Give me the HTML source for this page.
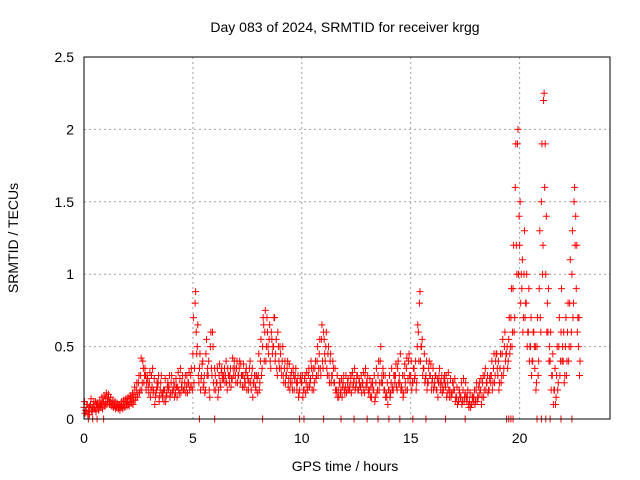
<!DOCTYPE html>
<html><head><meta charset="utf-8"><style>
body{margin:0;background:#fff}
svg{display:block;font-family:"Liberation Sans",sans-serif}
</style></head><body>
<svg id="chart" width="640" height="480" viewBox="0 0 640 480" xmlns="http://www.w3.org/2000/svg">
<rect width="640" height="480" fill="#fff"/>
<text x="345" y="32" font-size="14" text-anchor="middle">Day 083 of 2024, SRMTID for receiver krgg</text>
<text x="345" y="471" font-size="14" text-anchor="middle">GPS time / hours</text>
<text x="18" y="238" font-size="14" text-anchor="middle" transform="rotate(-90 18 238)">SRMTID / TECUs</text>
<g id="grid"></g>
<g id="ticks"></g>
<g id="marks"></g>
<rect x="84" y="57" width="526" height="362" fill="none" stroke="#000" stroke-width="1"/>
</svg>
<script>
const xTicks=[0,5,10,15,20];
const yTicks=[0,0.5,1,1.5,2,2.5];
const yTickLabels=["0","0.5","1","1.5","2","2.5"];
const seriesA=[0.08,0.06,0.05,0.1,0.08,0.07,0.1,0.09,0.1,0.12,
0.14,0.15,0.12,0.1,0.1,0.09,0.08,0.09,0.1,0.12,
0.12,0.14,0.15,0.17,0.2,0.25,0.3,0.4,0.35,0.3,
0.25,0.3,0.2,0.18,0.25,0.2,0.15,0.2,0.18,0.22,
0.25,0.2,0.18,0.22,0.28,0.25,0.2,0.22,0.25,0.3,
0.45,0.8,0.5,0.35,0.3,0.25,0.45,0.3,0.5,0.6,
0.35,0.25,0.3,0.32,0.28,0.3,0.35,0.3,0.28,0.4,
0.35,0.3,0.38,0.3,0.25,0.3,0.35,0.3,0.25,0.2,
0.3,0.4,0.5,0.6,0.7,0.55,0.6,0.5,0.45,0.6,
0.5,0.4,0.35,0.3,0.28,0.3,0.35,0.3,0.25,0.2,
0.25,0.2,0.25,0.3,0.28,0.3,0.35,0.4,0.45,0.55,
0.6,0.5,0.45,0.4,0.3,0.25,0.2,0.15,0.2,0.25,
0.22,0.25,0.2,0.3,0.28,0.25,0.2,0.22,0.25,0.3,
0.25,0.2,0.15,0.2,0.25,0.3,0.4,0.25,0.2,0.15,
0.2,0.25,0.2,0.3,0.35,0.25,0.2,0.3,0.35,0.4,
0.3,0.25,0.3,0.5,0.8,0.5,0.35,0.3,0.25,0.3,
0.28,0.25,0.2,0.3,0.25,0.2,0.22,0.25,0.2,0.18,
0.2,0.15,0.12,0.15,0.2,0.18,0.15,0.12,0.1,0.15,
0.2,0.15,0.2,0.25,0.3,0.25,0.2,0.3,0.35,0.4,
0.3,0.35,0.45,0.5,0.45,0.55,0.7,0.9,1.6,1.9,
1.2,0.9,1.0,0.8,0.6,0.5,0.4,0.35,0.5,0.9,
1.5,2.2,1.0,0.6,0.4,0.3,0.2,0.3,0.5,0.6,
0.4,0.5,0.6,0.8,1.0,1.5,0.9,0.5];
const seriesB=[0.04,0.1,0.03,0.06,0.12,0.05,0.08,0.1,0.07,0.09,
0.1,0.12,0.09,0.08,0.07,0.1,0.06,0.08,0.09,0.1,
0.1,0.12,0.1,0.13,0.15,0.18,0.2,0.25,0.2,0.22,
0.15,0.35,0.1,0.25,0.12,0.3,0.2,0.12,0.25,0.15,
0.18,0.15,0.22,0.2,0.18,0.2,0.3,0.18,0.2,0.22,
0.25,0.6,0.3,0.2,0.4,0.18,0.3,0.2,0.35,0.25,
0.2,0.15,0.25,0.28,0.35,0.25,0.3,0.22,0.35,0.3,
0.25,0.4,0.3,0.22,0.35,0.2,0.25,0.15,0.3,0.28,
0.2,0.3,0.65,0.4,0.5,0.4,0.45,0.7,0.35,0.4,
0.35,0.3,0.25,0.4,0.2,0.25,0.2,0.25,0.15,0.3,
0.15,0.3,0.2,0.22,0.35,0.2,0.28,0.3,0.35,0.4,
0.45,0.35,0.3,0.25,0.35,0.2,0.15,0.25,0.15,0.2,
0.18,0.2,0.25,0.22,0.2,0.3,0.25,0.18,0.2,0.22,
0.2,0.15,0.25,0.12,0.18,0.2,0.25,0.3,0.15,0.1,
0.15,0.2,0.3,0.22,0.25,0.2,0.15,0.25,0.2,0.3,
0.2,0.35,0.2,0.6,0.4,0.3,0.25,0.2,0.4,0.2,
0.2,0.3,0.15,0.25,0.18,0.3,0.15,0.2,0.15,0.25,
0.12,0.1,0.18,0.1,0.12,0.15,0.1,0.08,0.15,0.1,
0.12,0.25,0.1,0.15,0.2,0.18,0.3,0.2,0.25,0.45,
0.2,0.25,0.3,0.4,0.35,0.45,0.5,0.6,1.2,1.0,
0.8,0.6,0.7,0.5,0.4,0.3,0.6,0.2,0.3,0.7,
1.0,1.6,0.6,0.4,0.2,0.1,0.1,0.2,0.3,0.4,
0.25,0.3,0.4,0.5,0.7,1.2,0.6,0.3];
const seriesC=[0.12,0.1,0.08,0.14,0.1,0.12,0.11,0.13,0.15,0.16,
0.18,0.17,0.15,0.13,0.12,0.11,0.1,0.12,0.13,0.14,
0.15,0.16,0.18,0.22,0.25,0.3,0.42,0.35,0.3,0.28,
0.32,0.22,0.28,0.2,0.3,0.25,0.18,0.28,0.22,0.3,
0.3,0.25,0.28,0.32,0.35,0.3,0.25,0.3,0.32,0.35,
0.7,0.88,0.65,0.45,0.38,0.3,0.55,0.4,0.6,0.5,
0.3,0.35,0.38,0.35,0.3,0.4,0.3,0.35,0.42,0.35,
0.4,0.35,0.3,0.38,0.32,0.28,0.4,0.35,0.3,0.3,
0.45,0.55,0.7,0.75,0.6,0.65,0.55,0.7,0.55,0.5,
0.45,0.5,0.4,0.35,0.38,0.32,0.3,0.35,0.3,0.28,
0.3,0.28,0.32,0.35,0.4,0.35,0.4,0.5,0.55,0.65,
0.55,0.6,0.5,0.45,0.4,0.35,0.3,0.25,0.28,0.3,
0.3,0.28,0.3,0.32,0.35,0.3,0.28,0.3,0.32,0.35,
0.3,0.28,0.25,0.3,0.35,0.4,0.5,0.35,0.3,0.25,
0.3,0.35,0.3,0.38,0.4,0.45,0.3,0.38,0.42,0.45,
0.4,0.35,0.4,0.65,0.88,0.55,0.45,0.4,0.35,0.38,
0.35,0.3,0.28,0.35,0.3,0.28,0.3,0.32,0.28,0.25,
0.28,0.22,0.2,0.25,0.28,0.25,0.2,0.18,0.15,0.2,
0.25,0.22,0.28,0.3,0.35,0.3,0.28,0.4,0.45,0.45,
0.4,0.45,0.55,0.6,0.5,0.7,0.9,1.2,1.9,2.0,
1.5,1.1,1.3,1.0,0.9,0.7,0.6,0.5,0.7,1.3,
1.9,2.25,1.4,0.9,0.6,0.45,0.35,0.5,0.7,0.9,
0.6,0.7,0.8,1.1,1.3,1.6,1.2,0.7];
const seriesD=[0.06,0.03,0.09,0.05,0.07,0.1,0.06,0.08,0.11,0.1,
0.12,0.1,0.11,0.09,0.08,0.07,0.09,0.07,0.08,0.09,
0.09,0.11,0.13,0.15,0.18,0.2,0.25,0.3,0.25,0.18,
0.2,0.18,0.15,0.22,0.16,0.18,0.12,0.16,0.2,0.18,
0.2,0.22,0.15,0.18,0.22,0.2,0.18,0.25,0.22,0.2,
0.35,0.45,0.25,0.28,0.22,0.2,0.35,0.15,0.3,0.2,
0.25,0.2,0.22,0.3,0.25,0.2,0.25,0.28,0.3,0.25,
0.3,0.25,0.22,0.28,0.2,0.25,0.2,0.25,0.22,0.18,
0.25,0.35,0.4,0.5,0.45,0.35,0.5,0.4,0.3,0.35,
0.3,0.25,0.3,0.22,0.25,0.2,0.28,0.2,0.18,0.25,
0.2,0.18,0.22,0.25,0.2,0.25,0.3,0.35,0.3,0.35,
0.4,0.3,0.25,0.3,0.25,0.18,0.2,0.18,0.22,0.18,
0.2,0.22,0.18,0.25,0.22,0.2,0.22,0.25,0.18,0.25,
0.18,0.22,0.2,0.15,0.2,0.25,0.3,0.2,0.18,0.2,
0.18,0.22,0.25,0.2,0.3,0.22,0.18,0.2,0.28,0.25,
0.25,0.28,0.25,0.4,0.5,0.35,0.28,0.25,0.3,0.25,
0.22,0.2,0.25,0.2,0.22,0.25,0.18,0.15,0.18,0.2,
0.15,0.12,0.15,0.12,0.15,0.12,0.08,0.1,0.12,0.12,
0.15,0.18,0.15,0.2,0.25,0.2,0.25,0.25,0.3,0.35,
0.25,0.3,0.35,0.45,0.4,0.5,0.6,0.7,1.0,1.4,
1.0,0.7,0.8,0.6,0.5,0.4,0.5,0.25,0.4,0.6,
1.2,1.9,0.8,0.5,0.3,0.2,0.15,0.25,0.4,0.5,
0.3,0.4,0.5,0.6,0.8,1.4,0.7,0.4];
const zeroTimes=[0.2,0.4,0.6,0.9,5.3,6.0,8.2,9.9,10.1,11.0,11.8,12.4,13.0,13.5,14.0,14.5,15.1,15.7,16.6,17.5,19.4,19.5,19.6,19.7,20.8,21.0,21.2,21.4,21.9,22.4];
const STEP=0.1;
const NS="http://www.w3.org/2000/svg";
const X0=84,X1=610,Y0=419,Y1=57,XMAX=24.15,YMAX=2.5;
function xs(v){return X0+v/XMAX*(X1-X0);}
function ys(v){return Y0-v/YMAX*(Y0-Y1);}
function mk(tag,attrs,parent){const e=document.createElementNS(NS,tag);for(const k in attrs)e.setAttribute(k,attrs[k]);parent.appendChild(e);return e;}
const grid=document.getElementById('grid'),ticks=document.getElementById('ticks'),marks=document.getElementById('marks');
xTicks.forEach(t=>{const x=xs(t);
 if(t>0){const g=mk('line',{x1:x,x2:x,y1:Y1,y2:Y0,stroke:'#a0a0a0','stroke-dasharray':'2,3'},grid);
 
 }
 const l=mk('text',{x:x,y:Y0+24,'font-size':14,'text-anchor':'middle'},ticks);l.textContent=t;
 
 
});
yTicks.forEach((t,i)=>{const y=ys(t);
 if(t>0&&t<YMAX){const g=mk('line',{x1:X0,x2:X1,y1:y,y2:y,stroke:'#a0a0a0','stroke-dasharray':'2,3'},grid);
 
 }
 const l=mk('text',{x:X0-10,y:y+5,'font-size':14,'text-anchor':'end'},ticks);l.textContent=yTickLabels[i];
 
 
});
function plus(t,v){const x=xs(t),y=ys(v);
 const p=mk('path',{d:`M${x-3.5},${y}h7M${x},${y-3.5}v7`,stroke:'#f00','stroke-width':1},marks);
 
 }
seriesA.forEach((v,i)=>plus(i*STEP,v));
seriesB.forEach((v,i)=>plus(i*STEP+STEP/2,v));
seriesC.forEach((v,i)=>plus(i*STEP+STEP/4,v));
seriesD.forEach((v,i)=>plus(i*STEP+3*STEP/4,v));
zeroTimes.forEach(t=>plus(t,0));
</script>
</body></html>
